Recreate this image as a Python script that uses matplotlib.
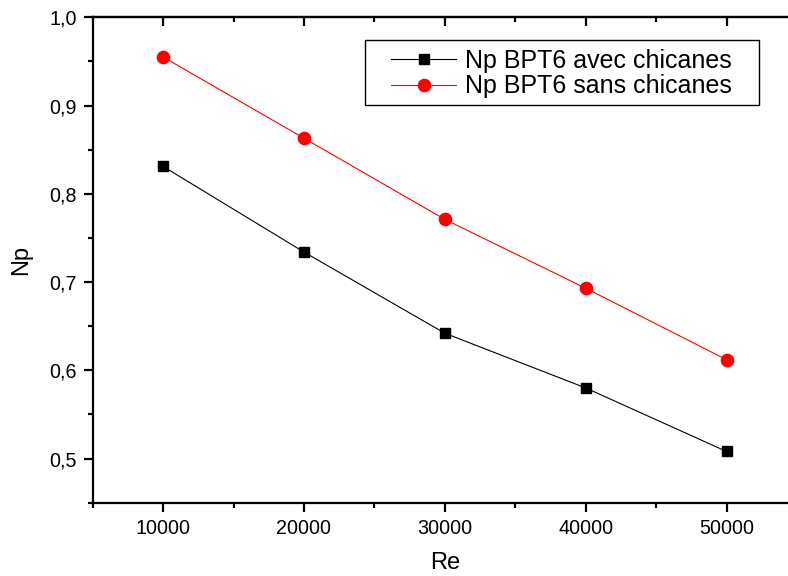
import matplotlib
matplotlib.use("Agg")
import matplotlib.pyplot as plt
from matplotlib.ticker import MultipleLocator, FuncFormatter
from matplotlib.patches import Rectangle

plt.rcParams['font.family'] = ['Liberation Sans', 'DejaVu Sans']

re_values = [10000, 20000, 30000, 40000, 50000]
np_avec = [0.831, 0.734, 0.642, 0.580, 0.508]
np_sans = [0.955, 0.863, 0.771, 0.693, 0.612]
label_avec = "Np BPT6 avec chicanes"
label_sans = "Np BPT6 sans chicanes"

W, H = 788, 576
fig = plt.figure(figsize=(W / 100, H / 100), dpi=100)
ax = fig.add_axes([0.1176, 0.1273, 0.8938, 0.8427])

ax.plot(re_values, np_avec, color='black', lw=0.8, marker='s', ms=7.2,
        mec='black', mfc='black', label=label_avec)
ax.plot(re_values, np_sans, color='red', lw=0.8, marker='o', ms=8.8,
        mec='red', mfc='red', label=label_sans)

ax.set_xlim(5000, 55000)
ax.set_ylim(0.45, 1.0)

ax.xaxis.set_major_locator(MultipleLocator(10000))
ax.xaxis.set_minor_locator(MultipleLocator(5000))
ax.yaxis.set_major_locator(MultipleLocator(0.1))
ax.yaxis.set_minor_locator(MultipleLocator(0.05))
ax.yaxis.set_major_formatter(FuncFormatter(lambda v, p: f"{v:.1f}".replace('.', ',')))
ax.xaxis.set_major_formatter(FuncFormatter(lambda v, p: f"{int(round(v))}"))

for s in ax.spines.values():
    s.set_linewidth(1.6)

ax.tick_params(axis='both', which='major', length=6.5, width=1.6, labelsize=14.2, pad=5)
ax.tick_params(axis='both', which='minor', length=3.5, width=1.6)
ax.tick_params(axis='x', which='both', direction='out', top=False)
ax.tick_params(axis='y', which='both', direction='out', right=False)

# inward ticks on the top and right edges
axt = ax.secondary_xaxis('top')
axt.xaxis.set_major_locator(MultipleLocator(10000))
axt.xaxis.set_minor_locator(MultipleLocator(5000))
axt.tick_params(which='major', direction='in', length=6.5, width=1.6, labeltop=False)
axt.tick_params(which='minor', direction='in', length=3.5, width=1.6)
axt.spines['top'].set_linewidth(1.6)
axr = ax.secondary_yaxis('right')
axr.yaxis.set_major_locator(MultipleLocator(0.1))
axr.yaxis.set_minor_locator(MultipleLocator(0.05))
axr.tick_params(which='major', direction='in', length=6.5, width=1.6, labelright=False)
axr.tick_params(which='minor', direction='in', length=3.5, width=1.6)
axr.spines['right'].set_linewidth(1.6)

ax.set_xlabel("Re", fontsize=17, labelpad=10)
ax.set_ylabel("Np", fontsize=17, labelpad=12)

# legend entries without frame, boxed by a separate rectangle
leg = ax.legend(loc='upper left', bbox_to_anchor=(386 / W, 1 - 44 / H),
                bbox_transform=fig.transFigure, borderaxespad=0, borderpad=0.2,
                fontsize=18, frameon=False, handlelength=2.6, handletextpad=0.35,
                labelspacing=0.05)
fig.patches.append(Rectangle((365 / W, 1 - 105 / H), (759 - 365) / W, (105 - 40) / H,
                             transform=fig.transFigure, fill=False,
                             edgecolor='black', lw=1.0, zorder=5))

fig.savefig("out.png", dpi=100)
